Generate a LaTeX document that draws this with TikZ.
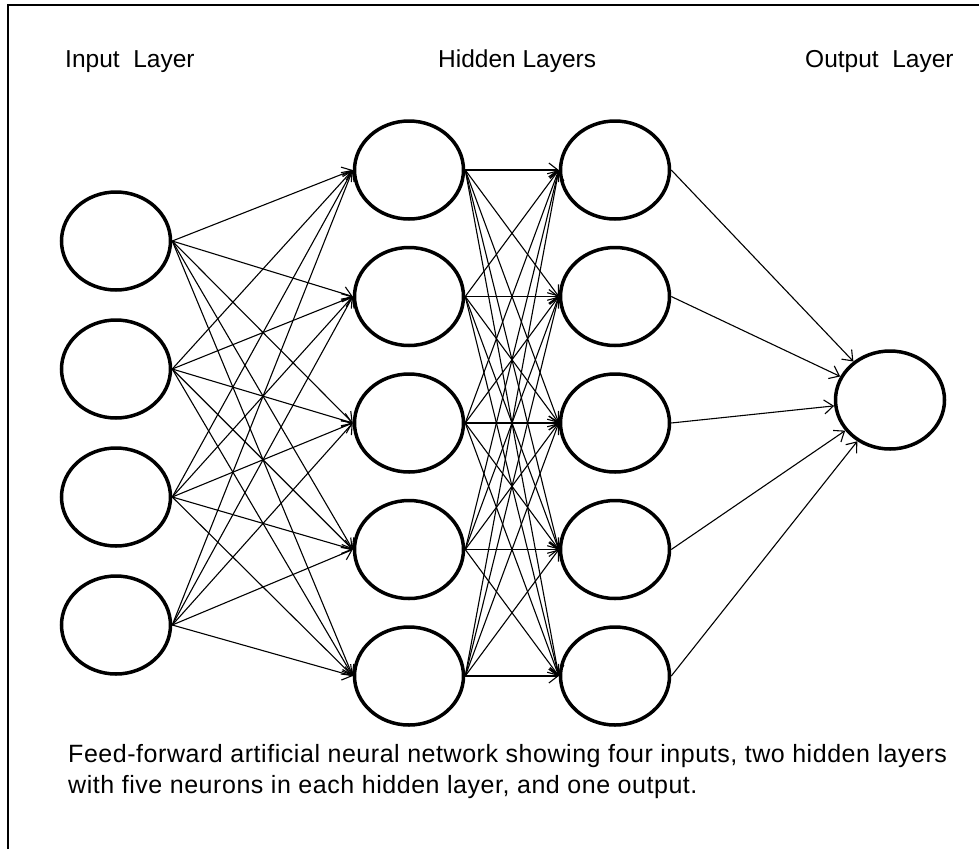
\documentclass[tikz,border=0pt]{standalone}
\usepackage{fontspec}
\setmainfont{Liberation Sans}
\usetikzlibrary{shapes.geometric,arrows.meta}
\definecolor{netblack}{RGB}{0,0,0}

\begin{document}
\begin{tikzpicture}[x=1pt,y=-1pt,
  neuron/.style={ellipse,draw=netblack,line width=3.5pt,minimum width=109pt,minimum height=98pt,inner sep=0pt},
  synapse/.style={draw=netblack,line width=1.1pt,-{Straight Barb[length=9pt,width=14pt,line width=1.1pt]}},
  layertitle/.style={anchor=base west,inner sep=0pt,font=\fontsize{24.5}{31}\selectfont}]
\useasboundingbox (0,0) rectangle (979,849);
\draw[line width=1.7pt] (8,849) -- (8,5) -- (979,5);
\node[layertitle] (intitle) at (65,67) {Input\ \ Layer};
\node[layertitle] (hidtitle) at (438,67) {Hidden Layers};
\node[layertitle] (outtitle) at (805,67) {Output\ \ Layer};
\foreach \i/\y in {1/241,2/369,3/497,4/625}
  \node[neuron] (in-\i) at (116,\y) {};
\foreach \i in {1,...,5} {
  \pgfmathsetmacro\yy{170+126.5*(\i-1)}
  \node[neuron] (ha-\i) at (409,\yy) {};
  \node[neuron] (hb-\i) at (615,\yy) {};
}
\node[neuron] (out) at (890,400) {};
\foreach \i in {1,...,4}
  \foreach \j in {1,...,5}
    \draw[synapse] (in-\i.east) -- (ha-\j.west);
\foreach \i in {1,...,5}
  \foreach \j in {1,...,5}
    \draw[synapse] (ha-\i.east) -- (hb-\j.west);
\foreach \i in {1,...,5}
  \draw[synapse] (hb-\i.east) -- (out);
\node[layertitle,align=left,font=\fontsize{25}{31}\selectfont\addfontfeature{LetterSpace=2.2}] (caption) at (68,793)
{Feed-forward artificial neural network showing four inputs, two hidden layers\\
with five neurons in each hidden layer, and one output.};
\end{tikzpicture}
\end{document}
